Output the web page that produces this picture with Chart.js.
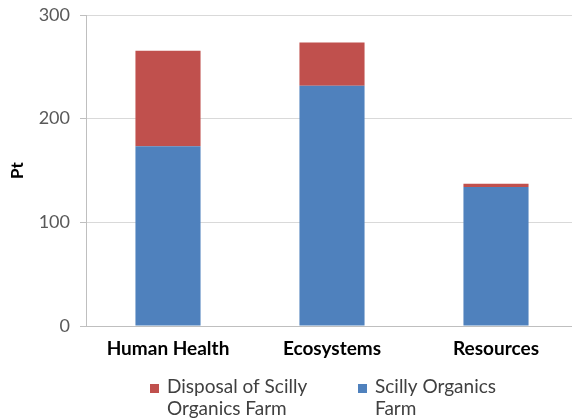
<!DOCTYPE html>
<html>
<head>
<meta charset="utf-8">
<script src="https://cdn.jsdelivr.net/npm/chart.js@4/dist/chart.umd.min.js"></script>
<style>
  html, body { margin: 0; padding: 0; background: #fff; overflow: hidden; }
  #wrap { width: 572px; height: 420px; overflow: hidden; position: relative; }
  #box { width: 580px; height: 420px; position: absolute; left: 0; top: 0; }
</style>
</head>
<body>
<div id="wrap"><div id="box"><canvas id="c"></canvas></div></div>
<script>
const categories = ['Human Health', 'Ecosystems', 'Resources'];
const farmValues = [173.5, 231.7, 134];
const disposalValues = [92, 41.7, 3.2];
const yTicks = [0, 100, 200, 300];

const BLUE = '#4f81bd';
const RED = '#c0504d';
const FONT = 'Lato, "Open Sans", sans-serif';

// Two-line legend drawn under the x axis labels
const wrappedLegend = {
  id: 'wrappedLegend',
  afterDraw(chart) {
    const ctx = chart.ctx;
    const items = [
      { ds: chart.data.datasets[1], lines: ['Disposal of Scilly', 'Organics Farm'], x: 150 },
      { ds: chart.data.datasets[0], lines: ['Scilly Organics', 'Farm'], x: 358 }
    ];
    ctx.save();
    ctx.font = '19px ' + FONT;
    ctx.textBaseline = 'middle';
    ctx.textAlign = 'left';
    items.forEach(it => {
      ctx.fillStyle = it.ds.backgroundColor;
      ctx.fillRect(it.x, 384, 9, 9);
      ctx.fillStyle = '#404040';
      it.lines.forEach((t, i) => ctx.fillText(t, it.x + 17, 387 + i * 22));
    });
    ctx.restore();
  }
};

new Chart(document.getElementById('c'), {
  type: 'bar',
  data: {
    labels: categories,
    datasets: [
      { label: 'Scilly Organics Farm', data: farmValues, backgroundColor: BLUE,
        barPercentage: 0.397, categoryPercentage: 1 },
      { label: 'Disposal of Scilly Organics Farm', data: disposalValues, backgroundColor: RED,
        barPercentage: 0.397, categoryPercentage: 1 }
    ]
  },
  options: {
    responsive: true,
    maintainAspectRatio: false,
    animation: false,
    layout: { padding: { top: 15, right: 2, left: 0, bottom: 0 } },
    plugins: { legend: { display: false }, tooltip: { enabled: false } },
    scales: {
      x: {
        stacked: true,
        grid: { display: false, drawTicks: false },
        border: { color: '#bfbfbf', width: 1 },
        ticks: { color: '#000', font: { family: FONT, size: 19, weight: 'bold' }, padding: 11 },
        afterFit(s) { s.height = 94; }
      },
      y: {
        stacked: true,
        min: 0, max: 300,
        afterBuildTicks(s) { s.ticks = yTicks.map(v => ({ value: v })); },
        grid: { color: '#d9d9d9', tickLength: 6, tickColor: '#bfbfbf' },
        border: { color: '#bfbfbf', width: 1 },
        ticks: { color: '#595959', font: { family: FONT, size: 18 }, padding: 10 },
        title: { display: true, text: 'Pt', color: '#000',
          font: { family: FONT, size: 17, weight: 'bold' }, padding: { top: 7, bottom: 0 } },
        afterFit(s) { s.width = 86; s.paddingTop = 0; s.paddingBottom = 0; }
      }
    }
  },
  plugins: [wrappedLegend]
});
</script>
</body>
</html>
